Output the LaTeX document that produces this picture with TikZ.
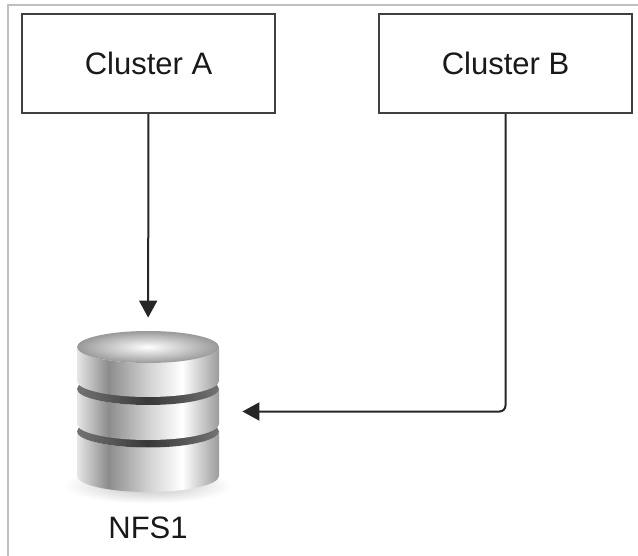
\documentclass[tikz,border=0pt]{standalone}
\usepackage{fontspec}
\setmainfont{Liberation Sans}
\usetikzlibrary{arrows.meta,positioning}
\pgfdeclarehorizontalshading{diskside}{100bp}{color(0bp)=(black!62); color(8bp)=(black!35); color(22bp)=(white); color(36bp)=(black!45); color(50bp)=(black!18); color(62bp)=(white); color(78bp)=(black!48); color(90bp)=(black!30); color(100bp)=(black!65)}
\pgfdeclarehorizontalshading{diskgroove}{100bp}{color(0bp)=(black!40); color(25bp)=(black!55); color(50bp)=(black!78); color(75bp)=(black!55); color(100bp)=(black!45)}
\newcommand{\disk}[3]{%
  \path[shading=diskside] (-71,#1) -- (-71,#2)
    arc[start angle=180, end angle=360, x radius=35.5pt, y radius=8pt]
    -- (71,#1) arc[start angle=0, end angle=-180, x radius=35.5pt, y radius=8pt] -- cycle;
  \path[#3] (0,#1) ellipse[x radius=35.5pt, y radius=8pt];
}
\tikzset{%
        cluster/.style = {draw=black!75, line width=1.2pt, fill=white,
                          minimum width=126.5pt, minimum height=49.5pt, inner sep=0pt},
        link/.style = {draw=black!85, line width=1pt,
                       -{Triangle[length=8.5pt, width=9pt]}},
        every node/.style = {text=black!90, font=\fontsize{15.5}{18}\selectfont}
}

\begin{document}
\begin{tikzpicture}[x=0.5pt, y=-0.5pt]
            \useasboundingbox (0,0) rectangle (638,556);
            \draw[black!25, line width=1pt] (8,556) -- (8,5) -- (638,5);
            \node[cluster] (ca) at (148.5,63.5) {Cluster A};
            \node[cluster] (cb) at (505.5,63.5) {Cluster B};
            \node[minimum width=71pt, minimum height=81.5pt, inner sep=0pt] (nfs) at (148,411.5) {};
            \node[below=11.5pt of nfs, inner sep=0pt] (nfsl) {NFS1};
            % storage icon
            \begin{scope}[shift={(nfs.center)}]
                \path[shade, inner color=black!25, outer color=white] (0,74) ellipse[x radius=42pt, y radius=9pt];
                \disk{20}{64.5}{shading=diskgroove}
                \disk{-22.5}{12.5}{shading=diskgroove}
                \disk{-64.5}{-30.5}{shade, inner color=white, outer color=black!40}
            \end{scope}
            \draw[link, shorten >=6pt] (ca) -- (nfs);
            \draw[link, rounded corners=3pt, shorten >=11.5pt] (cb) |- (nfs);
        \end{tikzpicture}
\end{document}
